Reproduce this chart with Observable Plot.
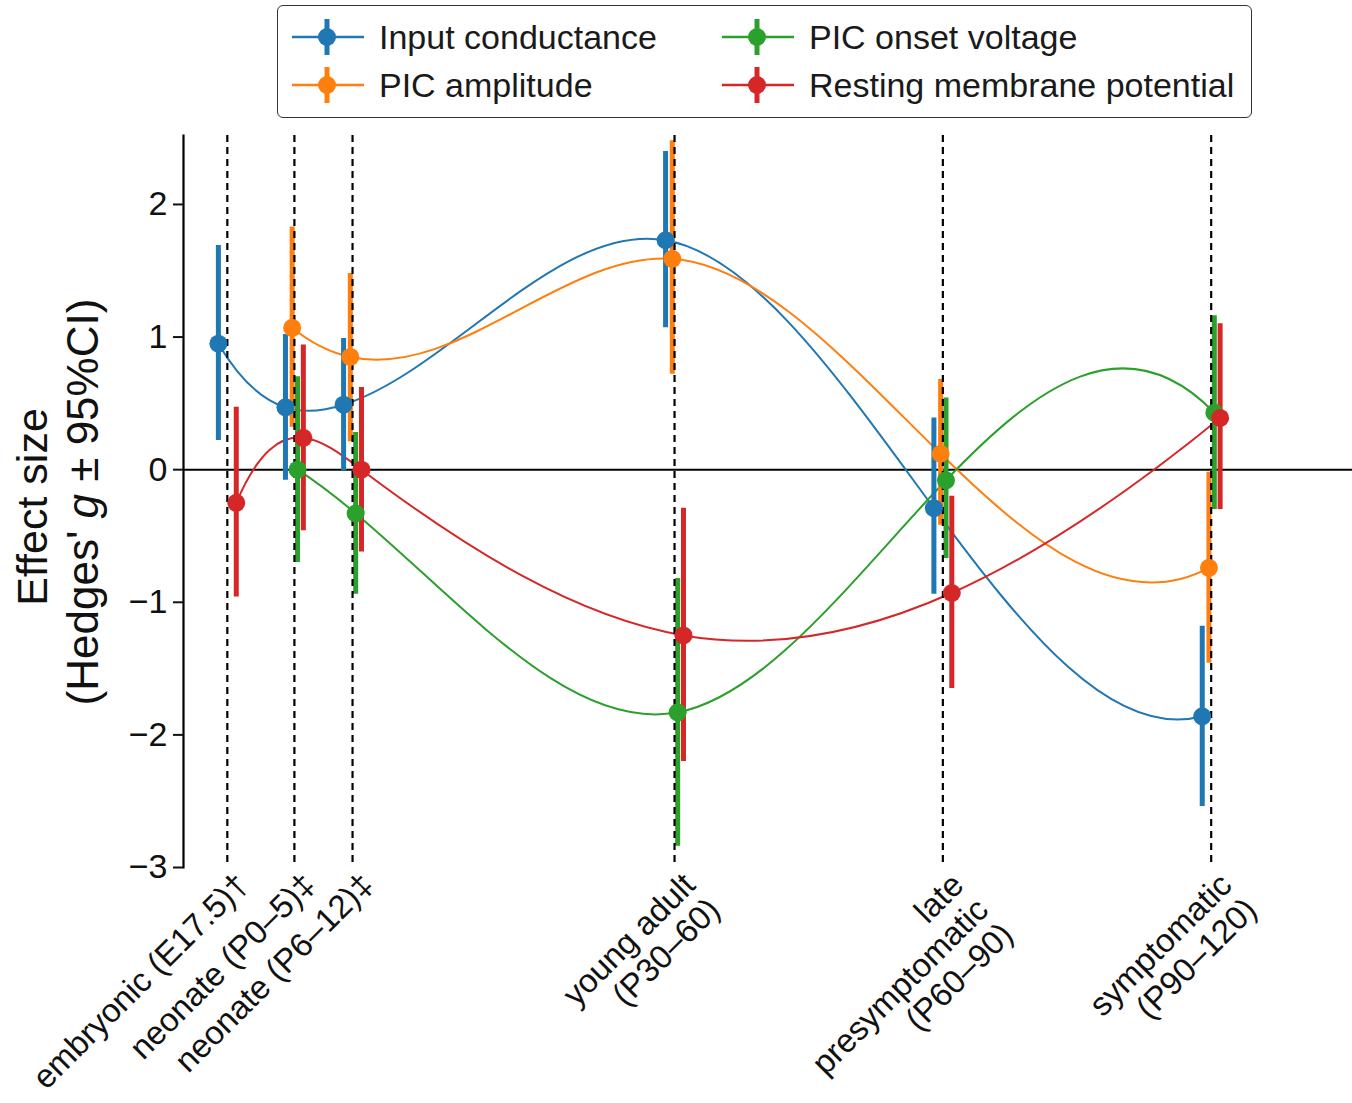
<!DOCTYPE html>
<html>
<head>
<meta charset="utf-8">
<script src="https://cdn.jsdelivr.net/npm/d3@7"></script>
<script src="https://cdn.jsdelivr.net/npm/@observablehq/plot@0.6"></script>
<style>
  html, body { margin: 0; padding: 0; background: #fff; }
  #wrap { position: relative; width: 1352px; height: 1103px; font-family: "Liberation Sans", Arial, Helvetica, sans-serif; }
  #legend { position: absolute; left: 277px; top: 5px; width: 975px; height: 113px; border: 1.6px solid #333; border-radius: 6px; background: #fff; box-sizing: border-box; }
  .item { position: absolute; display: flex; align-items: center; font-size: 34px; color: #1a1a1a; height: 46px; }
  .item svg { margin-right: 15px; }
</style>
</head>
<body>
<div id="wrap">
  <div id="chart"></div>
  <div id="legend"></div>
</div>
<script>
// ---- data ----
const stageLabels = [
  "embryonic (E17.5)†",
  "neonate (P0–5)‡",
  "neonate (P6–12)‡",
  "young adult\n(P30–60)",
  "late\npresymptomatic\n(P60–90)",
  "symptomatic\n(P90–120)"
];
const stageAges = [-5, 2.5, 9, 45, 75, 105];

const seriesNames = ["Input conductance", "PIC amplitude", "PIC onset voltage", "Resting membrane potential"];
const seriesColors = ["#1f77b4", "#ff7f0e", "#2ca02c", "#d62728"];
const seriesOffsets = [-1, -0.25, 0.35, 1];

const icG  = [0.95, 0.47, 0.49, 1.73, -0.29, -1.86];
const icLo = [0.22, -0.08, -0.01, 1.07, -0.94, -2.54];
const icHi = [1.69, 1.02, 0.99, 2.40, 0.39, -1.18];

const paG  = [null, 1.07, 0.85, 1.59, 0.12, -0.74];
const paLo = [null, 0.32, 0.21, 0.72, -0.42, -1.46];
const paHi = [null, 1.83, 1.48, 2.48, 0.68, -0.02];

const pvG  = [null, 0.0, -0.33, -1.83, -0.08, 0.43];
const pvLo = [null, -0.70, -0.94, -2.84, -0.67, -0.30];
const pvHi = [null, 0.70, 0.28, -0.82, 0.54, 1.16];

const rmpG  = [-0.25, 0.24, 0.0, -1.25, -0.93, 0.39];
const rmpLo = [-0.96, -0.46, -0.62, -2.20, -1.65, -0.30];
const rmpHi = [0.47, 0.94, 0.62, -0.29, -0.20, 1.10];

const yTicks = [-3, -2, -1, 0, 1, 2];

// ---- build table ----
const allG = [icG, paG, pvG, rmpG];
const allLo = [icLo, paLo, pvLo, rmpLo];
const allHi = [icHi, paHi, pvHi, rmpHi];
const rows = [];
seriesNames.forEach((s, si) => {
  stageAges.forEach((a, ai) => {
    if (allG[si][ai] == null) return;
    rows.push({series: s, x: a + seriesOffsets[si], g: allG[si][ai], lo: allLo[si][ai], hi: allHi[si][ai]});
  });
});
const stages = stageAges.map((a, i) => ({age: a, label: stageLabels[i]}));

const fmt = d => d < 0 ? "\u2212" + Math.abs(d) : String(d);

// ---- not-a-knot cubic spline curve (like scipy CubicSpline) ----
function solve(A, b) {
  const n = b.length;
  for (let i = 0; i < n; i++) {
    let p = i;
    for (let r = i + 1; r < n; r++) if (Math.abs(A[r][i]) > Math.abs(A[p][i])) p = r;
    [A[i], A[p]] = [A[p], A[i]]; [b[i], b[p]] = [b[p], b[i]];
    for (let r = i + 1; r < n; r++) {
      const f = A[r][i] / A[i][i];
      for (let c = i; c < n; c++) A[r][c] -= f * A[i][c];
      b[r] -= f * b[i];
    }
  }
  const x = new Array(n).fill(0);
  for (let i = n - 1; i >= 0; i--) {
    let s = b[i];
    for (let c = i + 1; c < n; c++) s -= A[i][c] * x[c];
    x[i] = s / A[i][i];
  }
  return x;
}
class NotAKnot {
  constructor(ctx) { this._context = ctx; }
  areaStart() {} areaEnd() {}
  lineStart() { this._x = []; this._y = []; }
  point(x, y) { this._x.push(+x); this._y.push(+y); }
  lineEnd() {
    const X = this._x, Y = this._y, n = X.length, ctx = this._context;
    if (!n) return;
    ctx.moveTo(X[0], Y[0]);
    if (n < 4) { for (let i = 1; i < n; i++) ctx.lineTo(X[i], Y[i]); return; }
    const h = [], d = [];
    for (let i = 0; i < n - 1; i++) { h.push(X[i + 1] - X[i]); d.push((Y[i + 1] - Y[i]) / h[i]); }
    const A = Array.from({length: n}, () => new Array(n).fill(0));
    const b = new Array(n).fill(0);
    A[0][0] = h[1]; A[0][1] = -(h[0] + h[1]); A[0][2] = h[0];
    for (let i = 1; i < n - 1; i++) {
      A[i][i - 1] = h[i - 1]; A[i][i] = 2 * (h[i - 1] + h[i]); A[i][i + 1] = h[i];
      b[i] = 6 * (d[i] - d[i - 1]);
    }
    A[n - 1][n - 3] = h[n - 2]; A[n - 1][n - 2] = -(h[n - 3] + h[n - 2]); A[n - 1][n - 1] = h[n - 3];
    const M = solve(A, b);
    for (let i = 0; i < n - 1; i++) {
      const s0 = d[i] - h[i] * (2 * M[i] + M[i + 1]) / 6;
      const s1 = d[i] + h[i] * (M[i] + 2 * M[i + 1]) / 6;
      ctx.bezierCurveTo(X[i] + h[i] / 3, Y[i] + s0 * h[i] / 3, X[i + 1] - h[i] / 3, Y[i + 1] - s1 * h[i] / 3, X[i + 1], Y[i + 1]);
    }
  }
}
const notAKnot = ctx => new NotAKnot(ctx);

const chart = Plot.plot({
  width: 1352,
  height: 1103,
  marginLeft: 183,
  marginRight: 0,
  marginTop: 135,
  marginBottom: 236,
  style: {fontFamily: "'Liberation Sans', Arial, Helvetica, sans-serif", background: "white", color: "#111"},
  x: {domain: [-9.9, 120.8], axis: null},
  y: {domain: [-3, 2.52], axis: null},
  color: {domain: seriesNames, range: seriesColors},
  marks: [
    Plot.ruleY([0], {stroke: "black", strokeWidth: 2}),
    Plot.line(rows, {x: "x", y: "g", z: "series", stroke: "series", curve: notAKnot, strokeWidth: 2}),
    Plot.ruleX(rows, {x: "x", y1: "lo", y2: "hi", stroke: "series", strokeWidth: 5}),
    Plot.ruleX(stages, {x: "age", stroke: "black", strokeWidth: 2.2, strokeDasharray: "7,5"}),
    Plot.dot(rows, {x: "x", y: "g", fill: "series", r: 9}),
    Plot.frame({anchor: "left", stroke: "black", strokeWidth: 2.2}),
    Plot.axisY({ticks: yTicks, tickFormat: fmt, tickSize: 10, tickPadding: 6, fontSize: 34, label: null, strokeWidth: 2}),
    Plot.text(stages, {x: "age", frameAnchor: "bottom", text: "label", rotate: -45, textAnchor: "end", lineAnchor: "top", dy: 2, dx: 5, fontSize: 33, lineHeight: 1.06, fill: "#111"})
  ]
});
document.getElementById("chart").appendChild(chart);

// y-axis title (two lines, rotated, with italic g)
const svg = d3.select(chart);
svg.append("text")
  .attr("transform", "translate(47,507) rotate(-90)")
  .attr("text-anchor", "middle")
  .attr("font-size", 43)
  .attr("fill", "#111")
  .text("Effect size");
const t2 = svg.append("text")
  .attr("transform", "translate(98,502) rotate(-90)")
  .attr("text-anchor", "middle")
  .attr("font-size", 44)
  .attr("fill", "#111");
t2.append("tspan").text("(Hedges' ");
t2.append("tspan").attr("font-style", "italic").text("g");
t2.append("tspan").text(" ± 95%CI)");

// legend
const legend = document.getElementById("legend");
const pos = [[14, 8], [14, 56], [444, 8], [444, 56]];
seriesNames.forEach((name, si) => {
  const c = seriesColors[si];
  const div = document.createElement("div");
  div.className = "item";
  div.style.left = pos[si][0] + "px";
  div.style.top = pos[si][1] + "px";
  div.innerHTML = `<svg width="72" height="46"><line x1="0" x2="72" y1="23" y2="23" stroke="${c}" stroke-width="2.5"/><line x1="35" x2="35" y1="5" y2="41" stroke="${c}" stroke-width="5"/><circle cx="35" cy="23" r="9" fill="${c}"/></svg><span>${name}</span>`;
  legend.appendChild(div);
});
</script>
</body>
</html>
